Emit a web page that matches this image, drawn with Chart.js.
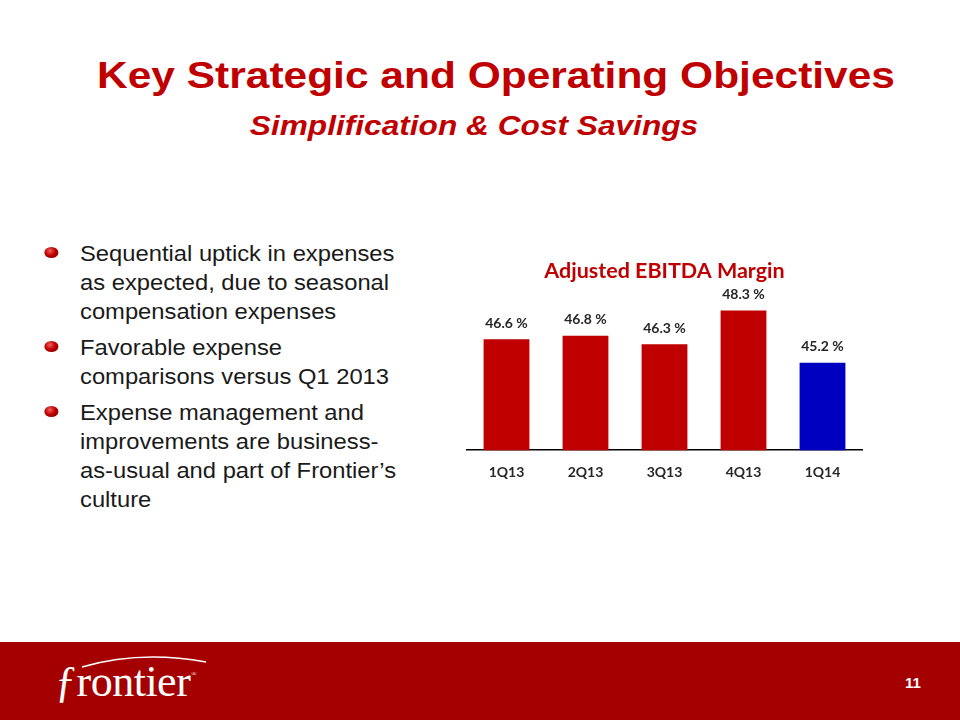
<!DOCTYPE html>
<html>
<head>
<meta charset="utf-8">
<script src="https://cdn.jsdelivr.net/npm/chart.js@4/dist/chart.umd.min.js"></script>
<style>
  html, body { margin: 0; padding: 0; background: #ffffff; }
  body { width: 960px; height: 720px; position: relative; overflow: hidden; font-family: "Liberation Sans", Arial, sans-serif; }
  .title { position: absolute; left: 0; width: 992px; top: 54px; text-align: center; color: #c00000;
           font-weight: bold; font-size: 36px; line-height: 44px; transform: scaleX(1.18); transform-origin: 496px 0; }
  .subtitle { position: absolute; left: 0; width: 948px; top: 108px; text-align: center; color: #c00000;
              font-weight: bold; font-style: italic; font-size: 28px; line-height: 36px; transform: scaleX(1.13); transform-origin: 474px 0; }
  .bullets { position: absolute; left: 80px; top: 239px; color: #1a1a1a; font-size: 22px; line-height: 29px;
             white-space: nowrap; transform: scaleX(1.08); transform-origin: 0 0; }
  .bullets p { margin: 0 0 7px 0; position: relative; }
  .bullets p::before { content: ""; position: absolute; left: -33px; top: 8px; width: 13px; height: 11px; border-radius: 50%;
                       background: radial-gradient(circle at 40% 35%, #f06060 0%, #c00000 45%, #700000 100%); }
  #wrap { position: absolute; left: 440px; top: 256px; width: 440px; height: 242px; }
  .footer { position: absolute; left: 0; top: 642px; width: 960px; height: 78px; background: #a50000; }
  .logo { position: absolute; left: 55px; top: 648px; color: #fff; font-family: "Liberation Serif", "DejaVu Serif", serif;
          font-size: 44px; line-height: 52px; letter-spacing: -0.5px; }
  .logo sup { font-size: 7px; vertical-align: 20px; margin-left: 1px; }
  .swoosh { position: absolute; left: 60px; top: 650px; }
  .page { position: absolute; left: 905px; top: 674px; color: #fff; font-weight: bold; font-size: 15px; }
</style>
</head>
<body>
<div class="title">Key Strategic and Operating Objectives</div>
<div class="subtitle">Simplification &amp; Cost Savings</div>

<div class="bullets">
  <p>Sequential uptick in expenses<br>as expected, due to seasonal<br>compensation expenses</p>
  <p>Favorable expense<br>comparisons versus Q1 2013</p>
  <p>Expense management and<br>improvements are business-<br>as-usual and part of Frontier’s<br>culture</p>
</div>

<div id="wrap"><canvas id="ebitdaChart"></canvas></div>

<div class="footer"></div>
<svg class="swoosh" width="150" height="30"><path d="M22 17 Q 80 0 146 12" stroke="#fff" stroke-width="1.6" fill="none"/></svg>
<div class="logo">ƒrontier<sup>®</sup></div>
<div class="page">11</div>

<script>
// Données du graphique
const quarters = ['1Q13', '2Q13', '3Q13', '4Q13', '1Q14'];
const marginValues = [46.6, 46.8, 46.3, 48.3, 45.2];
const barColors = ['#c00000', '#c00000', '#c00000', '#c00000', '#0000c0'];

// Étiquettes au-dessus des barres
const valueLabels = {
  id: 'valueLabels',
  afterDatasetsDraw(chart) {
    const ctx = chart.ctx;
    const meta = chart.getDatasetMeta(0);
    ctx.save();
    ctx.font = 'bold 14px Lato, sans-serif';
    ctx.fillStyle = '#262626';
    ctx.textAlign = 'center';
    ctx.textBaseline = 'middle';
    meta.data.forEach((bar, i) => {
      ctx.fillText(marginValues[i].toFixed(1) + ' %', bar.x, bar.y - 16);
    });
    ctx.restore();
  }
};

new Chart(document.getElementById('ebitdaChart'), {
  type: 'bar',
  data: {
    labels: quarters,
    datasets: [{
      data: marginValues,
      backgroundColor: barColors,
      borderWidth: 0,
      categoryPercentage: 1,
      barPercentage: 0.58
    }]
  },
  options: {
    responsive: true,
    maintainAspectRatio: false,
    animation: false,
    layout: { padding: { left: 27, right: 18, top: 0, bottom: 3 } },
    plugins: {
      legend: { display: false },
      tooltip: { enabled: false },
      title: {
        display: true,
        text: 'Adjusted EBITDA Margin',
        color: '#c00000',
        font: { family: 'Lato', weight: 'bold', size: 21.5 },
        padding: { top: 2, bottom: 15 }
      }
    },
    scales: {
      y: { display: false, min: 40, max: 49 },
      x: {
        grid: { display: false, drawTicks: false },
        border: { display: true, color: '#000', width: 1.5 },
        ticks: { color: '#262626', padding: 14, font: { family: 'Lato', weight: 'bold', size: 14 } }
      }
    }
  },
  plugins: [valueLabels]
});
</script>
</body>
</html>
